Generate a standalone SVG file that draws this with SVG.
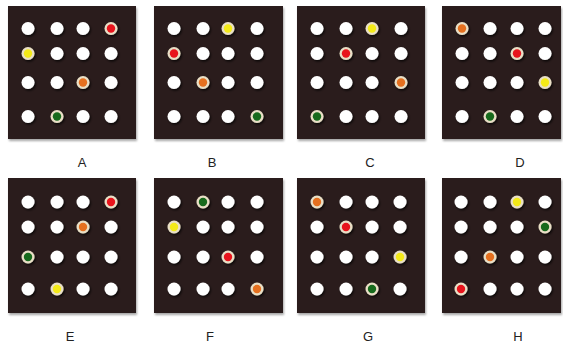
<svg xmlns="http://www.w3.org/2000/svg" width="563" height="344" viewBox="0 0 563 344">
<defs>
<filter id="ps" x="-10%" y="-10%" width="125%" height="125%">
<feDropShadow dx="1" dy="2" stdDeviation="1.2" flood-color="#000" flood-opacity="0.35"/>
</filter>
<filter id="ds" x="-50%" y="-50%" width="200%" height="200%">
<feDropShadow dx="1.2" dy="1.5" stdDeviation="1" flood-color="#000" flood-opacity="0.8"/>
</filter>
</defs>
<style>
.p{fill:#2b1f1f;filter:url(#ps)}
.w{fill:#ffffff;filter:url(#ds)}
.ring{fill:#e9dfc6;filter:url(#ds)}
.r{fill:#e8141c}
.y{fill:#f4ea18}
.o{fill:#e5701f}
.g{fill:#176a1c}
.lbl{font-family:"Liberation Sans",Arial,sans-serif;font-size:13px;fill:#222;text-anchor:middle}
</style>
<g id="panel-A">
<rect class="p" x="8" y="6" width="128" height="133"/>
<circle class="w" cx="28" cy="28.5" r="6.5"/><circle class="w" cx="57" cy="28.5" r="6.5"/><circle class="w" cx="83" cy="28.5" r="6.5"/><circle class="ring" cx="111" cy="28.5" r="6.5"/><circle class="r" cx="111" cy="28.5" r="4.2"/>
<circle class="ring" cx="28" cy="53.5" r="6.5"/><circle class="y" cx="28" cy="53.5" r="4.2"/><circle class="w" cx="57" cy="53.5" r="6.5"/><circle class="w" cx="83" cy="53.5" r="6.5"/><circle class="w" cx="111" cy="53.5" r="6.5"/>
<circle class="w" cx="28" cy="82.5" r="6.5"/><circle class="w" cx="57" cy="82.5" r="6.5"/><circle class="ring" cx="83" cy="82.5" r="6.5"/><circle class="o" cx="83" cy="82.5" r="4.2"/><circle class="w" cx="111" cy="82.5" r="6.5"/>
<circle class="w" cx="28" cy="116.5" r="6.5"/><circle class="ring" cx="57" cy="116.5" r="6.5"/><circle class="g" cx="57" cy="116.5" r="4.2"/><circle class="w" cx="83" cy="116.5" r="6.5"/><circle class="w" cx="111" cy="116.5" r="6.5"/>
<text class="lbl" x="82" y="167">A</text>
</g>
<g id="panel-B">
<rect class="p" x="154" y="6" width="129" height="133"/>
<circle class="w" cx="174" cy="28.5" r="6.5"/><circle class="w" cx="203" cy="28.5" r="6.5"/><circle class="ring" cx="228" cy="28.5" r="6.5"/><circle class="y" cx="228" cy="28.5" r="4.2"/><circle class="w" cx="257" cy="28.5" r="6.5"/>
<circle class="ring" cx="174" cy="53.5" r="6.5"/><circle class="r" cx="174" cy="53.5" r="4.2"/><circle class="w" cx="203" cy="53.5" r="6.5"/><circle class="w" cx="228" cy="53.5" r="6.5"/><circle class="w" cx="257" cy="53.5" r="6.5"/>
<circle class="w" cx="174" cy="82.5" r="6.5"/><circle class="ring" cx="203" cy="82.5" r="6.5"/><circle class="o" cx="203" cy="82.5" r="4.2"/><circle class="w" cx="228" cy="82.5" r="6.5"/><circle class="w" cx="257" cy="82.5" r="6.5"/>
<circle class="w" cx="174" cy="116.5" r="6.5"/><circle class="w" cx="203" cy="116.5" r="6.5"/><circle class="w" cx="228" cy="116.5" r="6.5"/><circle class="ring" cx="257" cy="116.5" r="6.5"/><circle class="g" cx="257" cy="116.5" r="4.2"/>
<text class="lbl" x="212" y="167">B</text>
</g>
<g id="panel-C">
<rect class="p" x="297" y="6" width="128" height="133"/>
<circle class="w" cx="317" cy="28.5" r="6.5"/><circle class="w" cx="346" cy="28.5" r="6.5"/><circle class="ring" cx="372" cy="28.5" r="6.5"/><circle class="y" cx="372" cy="28.5" r="4.2"/><circle class="w" cx="401" cy="28.5" r="6.5"/>
<circle class="w" cx="317" cy="53.5" r="6.5"/><circle class="ring" cx="346" cy="53.5" r="6.5"/><circle class="r" cx="346" cy="53.5" r="4.2"/><circle class="w" cx="372" cy="53.5" r="6.5"/><circle class="w" cx="401" cy="53.5" r="6.5"/>
<circle class="w" cx="317" cy="82.5" r="6.5"/><circle class="w" cx="346" cy="82.5" r="6.5"/><circle class="w" cx="372" cy="82.5" r="6.5"/><circle class="ring" cx="401" cy="82.5" r="6.5"/><circle class="o" cx="401" cy="82.5" r="4.2"/>
<circle class="ring" cx="317" cy="116.5" r="6.5"/><circle class="g" cx="317" cy="116.5" r="4.2"/><circle class="w" cx="346" cy="116.5" r="6.5"/><circle class="w" cx="372" cy="116.5" r="6.5"/><circle class="w" cx="401" cy="116.5" r="6.5"/>
<text class="lbl" x="370" y="167">C</text>
</g>
<g id="panel-D">
<rect class="p" x="442" y="6" width="119" height="133"/>
<circle class="ring" cx="462" cy="28.5" r="6.5"/><circle class="o" cx="462" cy="28.5" r="4.2"/><circle class="w" cx="490" cy="28.5" r="6.5"/><circle class="w" cx="517" cy="28.5" r="6.5"/><circle class="w" cx="545" cy="28.5" r="6.5"/>
<circle class="w" cx="462" cy="53.5" r="6.5"/><circle class="w" cx="490" cy="53.5" r="6.5"/><circle class="ring" cx="517" cy="53.5" r="6.5"/><circle class="r" cx="517" cy="53.5" r="4.2"/><circle class="w" cx="545" cy="53.5" r="6.5"/>
<circle class="w" cx="462" cy="82.5" r="6.5"/><circle class="w" cx="490" cy="82.5" r="6.5"/><circle class="w" cx="517" cy="82.5" r="6.5"/><circle class="ring" cx="545" cy="82.5" r="6.5"/><circle class="y" cx="545" cy="82.5" r="4.2"/>
<circle class="w" cx="462" cy="116.5" r="6.5"/><circle class="ring" cx="490" cy="116.5" r="6.5"/><circle class="g" cx="490" cy="116.5" r="4.2"/><circle class="w" cx="517" cy="116.5" r="6.5"/><circle class="w" cx="545" cy="116.5" r="6.5"/>
<text class="lbl" x="520" y="167">D</text>
</g>
<g id="panel-E">
<rect class="p" x="8" y="178" width="128" height="135"/>
<circle class="w" cx="28" cy="202" r="6.5"/><circle class="w" cx="57" cy="202" r="6.5"/><circle class="w" cx="83" cy="202" r="6.5"/><circle class="ring" cx="111" cy="202" r="6.5"/><circle class="r" cx="111" cy="202" r="4.2"/>
<circle class="w" cx="28" cy="227" r="6.5"/><circle class="w" cx="57" cy="227" r="6.5"/><circle class="ring" cx="83" cy="227" r="6.5"/><circle class="o" cx="83" cy="227" r="4.2"/><circle class="w" cx="111" cy="227" r="6.5"/>
<circle class="ring" cx="28" cy="257" r="6.5"/><circle class="g" cx="28" cy="257" r="4.2"/><circle class="w" cx="57" cy="257" r="6.5"/><circle class="w" cx="83" cy="257" r="6.5"/><circle class="w" cx="111" cy="257" r="6.5"/>
<circle class="w" cx="28" cy="289" r="6.5"/><circle class="ring" cx="57" cy="289" r="6.5"/><circle class="y" cx="57" cy="289" r="4.2"/><circle class="w" cx="83" cy="289" r="6.5"/><circle class="w" cx="111" cy="289" r="6.5"/>
<text class="lbl" x="70" y="341">E</text>
</g>
<g id="panel-F">
<rect class="p" x="154" y="178" width="129" height="135"/>
<circle class="w" cx="174" cy="202" r="6.5"/><circle class="ring" cx="203" cy="202" r="6.5"/><circle class="g" cx="203" cy="202" r="4.2"/><circle class="w" cx="228" cy="202" r="6.5"/><circle class="w" cx="257" cy="202" r="6.5"/>
<circle class="ring" cx="174" cy="227" r="6.5"/><circle class="y" cx="174" cy="227" r="4.2"/><circle class="w" cx="203" cy="227" r="6.5"/><circle class="w" cx="228" cy="227" r="6.5"/><circle class="w" cx="257" cy="227" r="6.5"/>
<circle class="w" cx="174" cy="257" r="6.5"/><circle class="w" cx="203" cy="257" r="6.5"/><circle class="ring" cx="228" cy="257" r="6.5"/><circle class="r" cx="228" cy="257" r="4.2"/><circle class="w" cx="257" cy="257" r="6.5"/>
<circle class="w" cx="174" cy="289" r="6.5"/><circle class="w" cx="203" cy="289" r="6.5"/><circle class="w" cx="228" cy="289" r="6.5"/><circle class="ring" cx="257" cy="289" r="6.5"/><circle class="o" cx="257" cy="289" r="4.2"/>
<text class="lbl" x="210" y="341">F</text>
</g>
<g id="panel-G">
<rect class="p" x="297" y="178" width="128" height="135"/>
<circle class="ring" cx="317" cy="202" r="6.5"/><circle class="o" cx="317" cy="202" r="4.2"/><circle class="w" cx="346" cy="202" r="6.5"/><circle class="w" cx="372" cy="202" r="6.5"/><circle class="w" cx="400" cy="202" r="6.5"/>
<circle class="w" cx="317" cy="227" r="6.5"/><circle class="ring" cx="346" cy="227" r="6.5"/><circle class="r" cx="346" cy="227" r="4.2"/><circle class="w" cx="372" cy="227" r="6.5"/><circle class="w" cx="400" cy="227" r="6.5"/>
<circle class="w" cx="317" cy="257" r="6.5"/><circle class="w" cx="346" cy="257" r="6.5"/><circle class="w" cx="372" cy="257" r="6.5"/><circle class="ring" cx="400" cy="257" r="6.5"/><circle class="y" cx="400" cy="257" r="4.2"/>
<circle class="w" cx="317" cy="289" r="6.5"/><circle class="w" cx="346" cy="289" r="6.5"/><circle class="ring" cx="372" cy="289" r="6.5"/><circle class="g" cx="372" cy="289" r="4.2"/><circle class="w" cx="400" cy="289" r="6.5"/>
<text class="lbl" x="368" y="341">G</text>
</g>
<g id="panel-H">
<rect class="p" x="442" y="178" width="119" height="135"/>
<circle class="w" cx="461" cy="202" r="6.5"/><circle class="w" cx="490" cy="202" r="6.5"/><circle class="ring" cx="517" cy="202" r="6.5"/><circle class="y" cx="517" cy="202" r="4.2"/><circle class="w" cx="545" cy="202" r="6.5"/>
<circle class="w" cx="461" cy="227" r="6.5"/><circle class="w" cx="490" cy="227" r="6.5"/><circle class="w" cx="517" cy="227" r="6.5"/><circle class="ring" cx="545" cy="227" r="6.5"/><circle class="g" cx="545" cy="227" r="4.2"/>
<circle class="w" cx="461" cy="257" r="6.5"/><circle class="ring" cx="490" cy="257" r="6.5"/><circle class="o" cx="490" cy="257" r="4.2"/><circle class="w" cx="517" cy="257" r="6.5"/><circle class="w" cx="545" cy="257" r="6.5"/>
<circle class="ring" cx="461" cy="289" r="6.5"/><circle class="r" cx="461" cy="289" r="4.2"/><circle class="w" cx="490" cy="289" r="6.5"/><circle class="w" cx="517" cy="289" r="6.5"/><circle class="w" cx="545" cy="289" r="6.5"/>
<text class="lbl" x="518" y="341">H</text>
</g>
<g id="connectors"/>
</svg>
